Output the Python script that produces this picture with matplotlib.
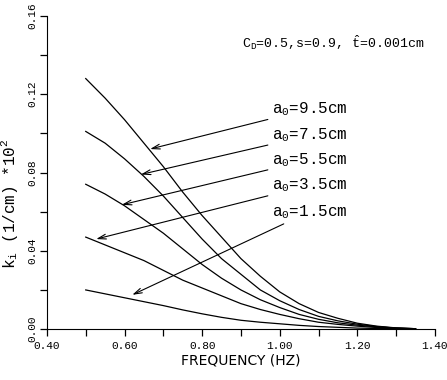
import matplotlib
matplotlib.use("Agg")
import matplotlib.pyplot as plt
from matplotlib.ticker import MultipleLocator, FormatStrFormatter

# values
freq = [0.50, 0.55, 0.60, 0.65, 0.70, 0.75, 0.80, 0.85, 0.90, 0.95,
        1.00, 1.05, 1.10, 1.15, 1.20, 1.25, 1.30, 1.35]
k_95 = [0.128, 0.118, 0.107, 0.095, 0.083, 0.070, 0.058, 0.047, 0.036, 0.027,
        0.019, 0.013, 0.0085, 0.0055, 0.003, 0.0015, 0.0006, 0.0002]
k_75 = [0.101, 0.095, 0.087, 0.078, 0.068, 0.057, 0.046, 0.036, 0.028, 0.020,
        0.0145, 0.010, 0.0065, 0.0042, 0.0025, 0.0013, 0.0005, 0.0002]
k_55 = [0.074, 0.069, 0.063, 0.056, 0.049, 0.041, 0.033, 0.026, 0.020, 0.015,
        0.011, 0.0075, 0.005, 0.0032, 0.002, 0.0011, 0.0005, 0.0002]
k_35 = [0.047, 0.043, 0.039, 0.035, 0.030, 0.025, 0.021, 0.017, 0.013, 0.010,
        0.0075, 0.0053, 0.0035, 0.0024, 0.0015, 0.0008, 0.0004, 0.0001]
k_15 = [0.020, 0.018, 0.016, 0.014, 0.012, 0.0098, 0.0078, 0.006, 0.0045, 0.0035,
        0.0027, 0.0019, 0.0013, 0.0009, 0.0005, 0.0003, 0.0002, 0.0001]

curves = [k_95, k_75, k_55, k_35, k_15]
labels = ["a$_0$=9.5cm", "a$_0$=7.5cm", "a$_0$=5.5cm", "a$_0$=3.5cm", "a$_0$=1.5cm"]
# arrow tips (freq, k) and label heights
tip_f = [0.666, 0.642, 0.593, 0.527, 0.620]
tip_k = [0.092, 0.079, 0.0635, 0.046, 0.0175]
lab_k = [0.1125, 0.099, 0.0865, 0.0735, 0.060]

plt.rcParams['mathtext.fontset'] = 'custom'
plt.rcParams['mathtext.rm'] = 'Liberation Mono'
plt.rcParams['mathtext.it'] = 'Liberation Mono'
mono = 'Liberation Mono'

fig = plt.figure(figsize=(4.47, 3.80), dpi=100)
ax = fig.add_axes([0.105, 0.134, 0.868, 0.824])

for k in curves:
    ax.plot(freq, k, color='black', lw=0.9)

for i in range(len(labels)):
    ax.annotate(labels[i], xy=(tip_f[i], tip_k[i]), xytext=(0.98, lab_k[i]),
                fontsize=11.5, family=mono, ha='left', va='center',
                arrowprops=dict(arrowstyle='->,head_length=0.5,head_width=0.15',
                                color='black', lw=0.8, shrinkA=1, shrinkB=0))

ax.text(0.902, 0.1465, r"C$_\mathrm{D}$=0.5,s=0.9, $\hat{\mathrm{t}}$=0.001cm",
        fontsize=9.5, family=mono, ha='left', va='center')

ax.set_xlim(0.4, 1.4)
ax.set_ylim(0.0, 0.16)
ax.spines['top'].set_visible(False)
ax.spines['right'].set_visible(False)
ax.xaxis.set_major_locator(MultipleLocator(0.2))
ax.xaxis.set_minor_locator(MultipleLocator(0.1))
ax.yaxis.set_major_locator(MultipleLocator(0.04))
ax.yaxis.set_minor_locator(MultipleLocator(0.02))
ax.xaxis.set_major_formatter(FormatStrFormatter('%.2f'))
ax.yaxis.set_major_formatter(FormatStrFormatter('%.2f'))
ax.tick_params(which='both', direction='out', length=5, width=0.9)
ax.tick_params(axis='y', pad=2)
for t in ax.get_xticklabels():
    t.set_family(mono)
    t.set_fontsize(8)
for t in ax.get_yticklabels():
    t.set_family(mono)
    t.set_fontsize(8)
    t.set_rotation(90)
    t.set_va('center')

ax.set_xlabel("FREQUENCY (HZ)", fontsize=10, family='DejaVu Sans', labelpad=2)
ax.set_ylabel(r"k$_\mathrm{i}$ (1/cm) *10$^\mathrm{2}$", fontsize=11.5, family=mono)
ax.yaxis.set_label_coords(-0.07, 0.40)

fig.savefig("out.png", dpi=100)
